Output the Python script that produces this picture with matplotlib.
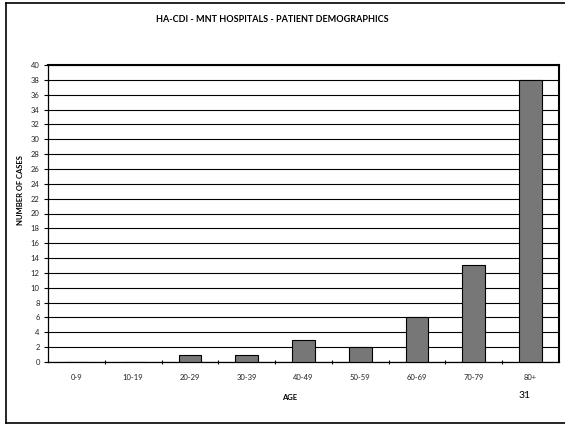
import matplotlib
matplotlib.use("Agg")
import matplotlib.pyplot as plt
from matplotlib.lines import Line2D

age_groups = ["0-9", "10-19", "20-29", "30-39", "40-49", "50-59", "60-69", "70-79", "80+"]
cases = [0, 0, 1, 1, 3, 2, 6, 13, 38]
y_ticks = list(range(0, 41, 2))

plt.rcParams["font.family"] = ["Lato", "DejaVu Sans"]

W, H = 565, 424
fig = plt.figure(figsize=(W / 100, H / 100), dpi=100)

# outer frame: left, top and bottom edges (right edge runs past the canvas)
def px(xp, yp):
    return xp / W, 1 - yp / H

for (x0, y0), (x1, y1) in [((6, 3), (6, 423)), ((6, 3), (570, 3)), ((6, 423), (570, 423))]:
    a, b = px(x0, y0)
    c, d = px(x1, y1)
    fig.add_artist(Line2D([a, c], [b, d], transform=fig.transFigure,
                          color="black", linewidth=1.2))

ax = fig.add_axes([48 / W, 1 - 362 / H, (559 - 48) / W, (362 - 65) / H])
x = list(range(len(age_groups)))
ax.bar(x, cases, width=0.4, color="#777777", edgecolor="black", linewidth=0.8, zorder=3)

ax.set_xlim(-0.5, len(age_groups) - 0.5)
ax.set_ylim(0, 40)
ax.set_yticks(y_ticks)
ax.set_yticklabels([str(v) for v in y_ticks], fontsize=5.5, color="#222222")
ax.yaxis.grid(True, color="black", linewidth=0.8, zorder=0)

ax.set_xticks(x)
ax.set_xticklabels(age_groups, fontsize=5.5, color="#222222")
ax.tick_params(axis="x", which="major", length=0, pad=9)
ax.set_xticks([i + 0.5 for i in x[:-1]], minor=True)
ax.tick_params(axis="x", which="minor", length=3, direction="inout", width=0.8)
ax.tick_params(axis="y", length=3, width=0.8, pad=3)

for side in ["top", "right"]:
    ax.spines[side].set_linewidth(1.5)
for side in ["left", "bottom"]:
    ax.spines[side].set_linewidth(0.9)

fig.text(272 / W, 1 - 20 / H, "HA-CDI - MNT HOSPITALS - PATIENT DEMOGRAPHICS",
         ha="center", va="center", fontsize=6.5, fontweight="bold")
fig.text(290 / W, 1 - 398 / H, "AGE", ha="center", va="center",
         fontsize=5.5, fontweight="bold")
fig.text(21 / W, 1 - 190 / H, "NUMBER OF CASES", ha="center", va="center",
         rotation=90, fontsize=5.5, fontweight="bold")
fig.text(525 / W, 1 - 396 / H, "31", ha="center", va="center", fontsize=7.5)

fig.savefig("out.png", dpi=100)
